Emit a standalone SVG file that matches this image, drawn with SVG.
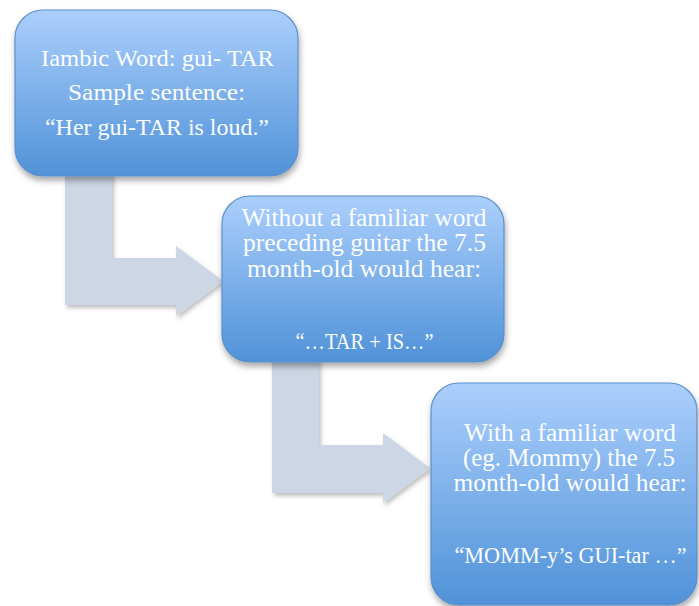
<svg xmlns="http://www.w3.org/2000/svg" width="699" height="606" viewBox="0 0 699 606">
<defs>
<linearGradient id="boxGrad" x1="0" y1="0" x2="0" y2="1">
<stop offset="0" stop-color="#abcffc"/>
<stop offset="1" stop-color="#5092d8"/>
</linearGradient>
<filter id="shadow" x="-10%" y="-10%" width="125%" height="130%">
<feDropShadow dx="1" dy="4" stdDeviation="3" flood-color="#000" flood-opacity="0.35"/>
</filter>
<filter id="ashadow" x="-10%" y="-10%" width="125%" height="130%">
<feDropShadow dx="2" dy="3" stdDeviation="2" flood-color="#000" flood-opacity="0.25"/>
</filter>
</defs>
<style>
.box{fill:url(#boxGrad);stroke:#5b8fcb;stroke-width:1.2;filter:url(#shadow);}
.arrow{fill:#cdd6e4;filter:url(#ashadow);}
text{font-family:"Liberation Serif","Times New Roman",serif;fill:#fbfdff;text-anchor:middle;}
.t1{font-size:24px;}
.t2{font-size:25px;}
.t3{font-size:23px;}
</style>
<g id="connectors">
<path class="arrow" d="M65,170 L112,170 L112,258 L176,258 L176,246 L223,281 L176,316 L176,305 L65,305 Z"/>
<path class="arrow" d="M272,356 L319,356 L319,445 L383,445 L383,433 L430,468 L383,503 L383,493 L272,493 Z"/>
</g>
<g id="node1">
<rect class="box" x="15" y="10" width="283" height="166" rx="28"/>
<text class="t1" x="157.5" y="66" textLength="233" lengthAdjust="spacingAndGlyphs">Iambic Word: gui- TAR</text>
<text class="t1" x="156.5" y="100" textLength="177" lengthAdjust="spacingAndGlyphs">Sample sentence:</text>
<text class="t1" x="157" y="135" textLength="224" lengthAdjust="spacingAndGlyphs">“Her gui-TAR is loud.”</text>
</g>
<g id="node2">
<rect class="box" x="222" y="196" width="282" height="166" rx="28"/>
<text class="t2" x="364" y="226" textLength="245" lengthAdjust="spacingAndGlyphs">Without a familiar word</text>
<text class="t2" x="364.5" y="251" textLength="243" lengthAdjust="spacingAndGlyphs">preceding guitar the 7.5</text>
<text class="t2" x="364" y="277" textLength="234" lengthAdjust="spacingAndGlyphs">month-old would hear:</text>
<text class="t3" x="364.5" y="349" textLength="138" lengthAdjust="spacingAndGlyphs">“…TAR + IS…”</text>
</g>
<g id="node3">
<rect class="box" x="431" y="383" width="266" height="222" rx="28"/>
<text class="t2" x="570" y="441" textLength="212" lengthAdjust="spacingAndGlyphs">With a familiar word</text>
<text class="t2" x="569" y="466" textLength="212" lengthAdjust="spacingAndGlyphs">(eg. Mommy) the 7.5</text>
<text class="t2" x="570" y="491" textLength="233" lengthAdjust="spacingAndGlyphs">month-old would hear:</text>
<text class="t3" x="570.5" y="563" textLength="232" lengthAdjust="spacingAndGlyphs">“MOMM-y’s GUI-tar …”</text>
</g>
</svg>
